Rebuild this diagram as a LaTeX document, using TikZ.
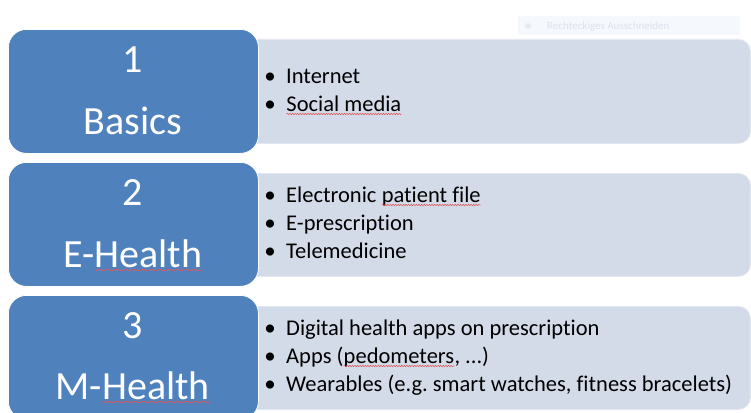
\documentclass[tikz,border=0pt]{standalone}
\usepackage{fontspec}
\setmainfont{Carlito}[Ligatures=NoCommon]
\usetikzlibrary{decorations.pathmorphing}
\frenchspacing

\definecolor{stageblue}{HTML}{4F81BD}
\definecolor{panelgray}{HTML}{D4DBE8}
\definecolor{panelrim}{HTML}{E3E7EF}
\definecolor{spellred}{HTML}{E05A5A}
\definecolor{ghostfill}{HTML}{F5F8FD}
\definecolor{ghosttext}{HTML}{DCE2EC}
\definecolor{ghostdot}{HTML}{E8ECF2}

% word with a wavy red underline
\newcommand\wavy[1]{\tikz[baseline=(w.base)]{%
  \node[inner sep=0pt,outer sep=0pt] (w) {#1};%
  \draw[spellred,line width=0.55pt,decorate,
        decoration={snake,amplitude=0.7pt,segment length=2.6pt}]
    ([yshift=-3pt]w.base west) -- ([yshift=-3pt]w.base east);}}

\begin{document}
\begin{tikzpicture}[x=1pt,y=-1pt,
  stage/.style={fill=stageblue,draw=white,line width=0.8pt,rounded corners=18pt,
    anchor=north west,minimum width=250pt,minimum height=124pt,inner sep=0pt},
  panel/.style={fill=panelgray,draw=panelrim,line width=0.8pt,rounded corners=12pt,
    anchor=north west,minimum width=510pt,inner sep=0pt},
  biglabel/.style={text=white,font=\fontsize{40}{46}\selectfont,anchor=base,inner sep=0pt},
  item/.style={font=\fontsize{22.5}{27}\selectfont,anchor=base west,inner sep=0pt},
  dot/.style={font=\fontsize{23}{27}\selectfont,anchor=base,inner sep=0pt}]

\useasboundingbox (0,0) rectangle (751,412);
\clip (0,0) rectangle (751,412);
\fill[white] (0,0) rectangle (751,412);

% faint toolbar tooltip
\node[fill=ghostfill,anchor=north west,minimum width=222pt,minimum height=19pt,inner sep=0pt] (tip) at (518,16) {};
\fill[ghostdot] (528,26) circle (3pt);
\node[text=ghosttext,font=\fontsize{11}{13}\selectfont,anchor=base west,inner sep=0pt] (tiptext) at (547,30) {Rechteckiges Ausschneiden};

% content panels
\node[panel,minimum height=104pt] (p1) at (240,39) {};
\node[panel,minimum height=103pt] (p2) at (240,173) {};
\node[panel,minimum height=103pt] (p3) at (240,306) {};

% stage boxes
\node[stage] (s1) at (8,29) {};
\node[stage] (s2) at (8,162) {};
\node[stage] (s3) at (8,295) {};

% stage labels
\node[biglabel] (n1) at (133,72) {1};
\node[biglabel] (t1) at (133,134) {Basics};
\node[biglabel] (n2) at (133,205) {2};
\node[biglabel] (t2) at (133,267) {E-\wavy{Health}};
\node[biglabel] (n3) at (133,338) {3};
\node[biglabel] (t3) at (133,399) {M-\wavy{Health}};

% panel 1 items
\node[dot] (d11) at (270,83) {•};
\node[item] (i11) at (286,83) {Internet};
\node[dot] (d12) at (270,111) {•};
\node[item] (i12) at (286,111) {\wavy{Social media}};

% panel 2 items
\node[dot] (d21) at (270,202) {•};
\node[item] (i21) at (286,202) {Electronic \wavy{patient file}};
\node[dot] (d22) at (270,230) {•};
\node[item] (i22) at (286,230) {E-prescription};
\node[dot] (d23) at (270,258) {•};
\node[item] (i23) at (286,258) {Telemedicine};

% panel 3 items
\node[dot] (d31) at (270,335) {•};
\node[item] (i31) at (286,335) {Digital health apps on prescription};
\node[dot] (d32) at (270,363) {•};
\node[item] (i32) at (286,363) {Apps (\wavy{pedometers}, ...)};
\node[dot] (d33) at (270,391) {•};
\node[item] (i33) at (286,391) {Wearables (e.g. smart watches, fitness bracelets)};
\end{tikzpicture}
\end{document}
